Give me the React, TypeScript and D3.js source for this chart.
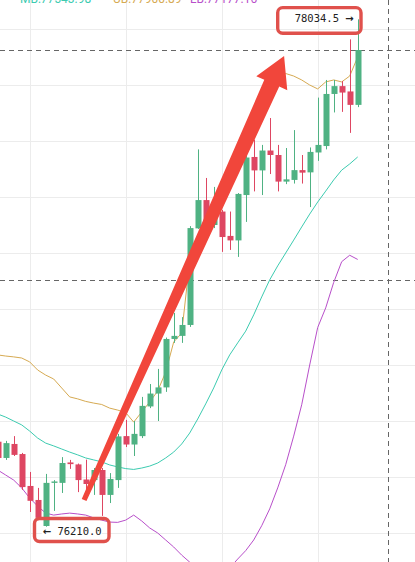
import React from 'react';
import * as d3 from 'd3';

const W = 415;
const H = 562;

// candle index -1..44
const candleIndex = d3.range(-1, 45);
const opens = [76526, 76468, 76518, 76482, 76368, 76318, 76225, 76379, 76379, 76452, 76445, 76391, 76389, 76425, 76336, 76389, 76546, 76516, 76546, 76652, 76698, 76720, 76893, 76904, 76943, 77288, 77389, 77300, 77348, 77261, 77245, 77407, 77543, 77495, 77566, 77550, 77455, 77461, 77496, 77488, 77559, 77582, 77768, 77796, 77777, 77729];
const highs = [76539, 76529, 76546, 76486, 76418, 76361, 76411, 76389, 76471, 76461, 76448, 76462, 76432, 76432, 76414, 76554, 76604, 76600, 76686, 76732, 76786, 76898, 76986, 76971, 77296, 77570, 77468, 77436, 77354, 77348, 77414, 77604, 77605, 77586, 77682, 77586, 77575, 77639, 77550, 77577, 77755, 77818, 77818, 77814, 77963, 78034.5];
const lows = [76454, 76461, 76475, 76354, 76275, 76246, 76210, 76279, 76343, 76429, 76346, 76346, 76336, 76261, 76307, 76361, 76507, 76475, 76539, 76646, 76600, 76704, 76879, 76879, 76936, 77286, 77289, 77289, 77204, 77211, 77186, 77311, 77420, 77407, 77482, 77420, 77446, 77448, 77448, 77364, 77529, 77570, 77702, 77704, 77629, 77721];
const closes = [76468, 76521, 76479, 76364, 76315, 76254, 76379, 76384, 76450, 76446, 76389, 76375, 76425, 76336, 76393, 76545, 76516, 76554, 76654, 76698, 76720, 76893, 76904, 76943, 77289, 77389, 77300, 77350, 77257, 77245, 77411, 77541, 77495, 77566, 77550, 77455, 77463, 77496, 77487, 77561, 77586, 77768, 77796, 77773, 77729, 77925];

const upperBand = [76836, 76832, 76829, 76825, 76811, 76782, 76764, 76750, 76718, 76686, 76679, 76670, 76664, 76659, 76646, 76639, 76630, 76596, 76632, 76668, 76707, 76775, 76882, 76914, 77171, 77236, 77296, 77361, 77425, 77489, 77554, 77614, 77679, 77743, 77789, 77825, 77841, 77832, 77818, 77800, 77786, 77811, 77818, 77811, 77832, 77900];
const middleBand = [76625, 76614, 76600, 76586, 76564, 76539, 76521, 76511, 76500, 76489, 76479, 76468, 76461, 76454, 76443, 76436, 76430, 76427, 76432, 76439, 76450, 76468, 76489, 76518, 76557, 76607, 76661, 76718, 76782, 76836, 76879, 76921, 76979, 77043, 77104, 77154, 77200, 77246, 77293, 77339, 77382, 77421, 77461, 77496, 77518, 77543];
const lowerBand = [76425, 76407, 76389, 76361, 76325, 76296, 76271, 76264, 76268, 76271, 76268, 76264, 76254, 76246, 76239, 76238, 76246, 76264, 76243, 76218, 76200, 76175, 76150, 76121, 76096, 76075, 76057, 76046, 76054, 76075, 76107, 76137, 76175, 76226, 76286, 76361, 76444, 76546, 76658, 76800, 76934, 77004, 77095, 77169, 77192, 77177];

const priceTicks = d3.range(76200, 78001, 200);
const timeGridIndex = [3, 15, 27, 39];
const lastPrice = 77925;
const crosshairPrice = 77104;
const crosshairIndex = 47.8;
const highLabel = '78034.5';
const lowLabel = '76210.0';
const highIndex = 44;
const lowIndex = 5;
const arrowFrom = { i: 9.8, p: 76318 };
const arrowTo = { i: 34.8, p: 77904 };
const legendTexts = ['MB:77543.98', 'UB:77900.89', 'LB:77177.16'];

const UP = '#4fb283';
const DOWN = '#de4662';
const C_UPPER = '#d6aa52';
const C_MID = '#3ccbb0';
const C_LOW = '#b84fca';

export default function App() {
  const x = d3.scaleLinear().domain([-1, 44]).range([-2.3, 357.7]);
  const y = d3.scaleLinear().domain([76200, 78000]).range([533, 29]);

  const bandLine = (vals: number[]) =>
    d3.line<number>().x((_, k) => x(candleIndex[k])).y((v) => y(v))(vals) || '';

  // arrow geometry
  const tx = x(arrowFrom.i), ty = y(arrowFrom.p);
  const hx = x(arrowTo.i), hy = y(arrowTo.p);
  const len = Math.hypot(hx - tx, hy - ty);
  const ux = (hx - tx) / len, uy = (hy - ty) / len;
  const nx = -uy, ny = ux;
  const headLen = 30, headHalf = 17, tailHalf = 2.6, baseHalf = 8.2;
  const bx = hx - ux * headLen, by = hy - uy * headLen;
  const arrowPts: [number, number][] = [
    [tx + nx * tailHalf, ty + ny * tailHalf],
    [bx + nx * baseHalf, by + ny * baseHalf],
    [bx + nx * headHalf, by + ny * headHalf],
    [hx, hy],
    [bx - nx * headHalf, by - ny * headHalf],
    [bx - nx * baseHalf, by - ny * baseHalf],
    [tx - nx * tailHalf, ty - ny * tailHalf],
  ];

  const hiX = x(highIndex), hiY = y(highs[highs.length - 1]);
  const loX = x(lowIndex), loY = y(lows[lowIndex + 1]);

  return (
    <svg width={W} height={H} style={{ position: 'absolute', left: 0, top: 0, background: '#fff' }}>
      <rect x={0} y={0} width={W} height={H} fill="#fff" />
      {priceTicks.map((p) => (
        <line key={'h' + p} x1={0} x2={W} y1={Math.round(y(p)) + 0.5} y2={Math.round(y(p)) + 0.5} stroke="#ececec" />
      ))}
      {timeGridIndex.map((i) => (
        <line key={'v' + i} y1={0} y2={H} x1={Math.round(x(i)) + 0.5} x2={Math.round(x(i)) + 0.5} stroke="#ececec" />
      ))}
      <line x1={0} x2={W} y1={Math.round(y(lastPrice)) + 0.5} y2={Math.round(y(lastPrice)) + 0.5} stroke="#666" strokeDasharray="5 4" />
      <line x1={0} x2={W} y1={Math.round(y(crosshairPrice)) + 0.5} y2={Math.round(y(crosshairPrice)) + 0.5} stroke="#666" strokeDasharray="5 4" />
      <line y1={0} y2={H} x1={Math.round(x(crosshairIndex)) + 0.5} x2={Math.round(x(crosshairIndex)) + 0.5} stroke="#666" strokeDasharray="5 4" />

      <path d={bandLine(upperBand)} fill="none" stroke={C_UPPER} strokeWidth={1} />
      <path d={bandLine(middleBand)} fill="none" stroke={C_MID} strokeWidth={1} />
      <path d={bandLine(lowerBand)} fill="none" stroke={C_LOW} strokeWidth={1} />

      {candleIndex.map((i, k) => {
        const o = opens[k], c = closes[k], h = highs[k], l = lows[k];
        const col = c >= o ? UP : DOWN;
        const cx = Math.round(x(i));
        const top = y(Math.max(o, c));
        const bot = y(Math.min(o, c));
        return (
          <g key={'c' + i}>
            <line x1={cx + 0.5} x2={cx + 0.5} y1={y(h)} y2={y(l)} stroke={col} strokeWidth={1} />
            <rect x={cx - 2.5} y={top} width={6} height={Math.max(1.2, bot - top)} fill={col} />
          </g>
        );
      })}

      <polygon points={arrowPts.map((p) => p.join(',')).join(' ')} fill="#f1463b" />

      <rect x={hiX - 80} y={hiY - 11.7} width={83.3} height={25.6} rx={5} fill="none" stroke="#e0514c" strokeWidth={3.4} />
      <text x={hiX - 4} y={hiY + 2.6} textAnchor="end" fontFamily="DejaVu Sans Mono" fontSize={10.5} fill="#222">
        <tspan>{highLabel + ' '}</tspan>
        <tspan fontFamily="DejaVu Sans" fontWeight="bold" fontSize={10}>→</tspan>
      </text>

      <rect x={loX - 4} y={loY - 3.5} width={60} height={11} fill="#fff" />
      <rect x={loX - 11.2} y={loY - 11.7} width={74.5} height={23} rx={5} fill="none" stroke="#e0514c" strokeWidth={3.4} />
      <text x={loX - 3} y={loY + 4.8} fontFamily="DejaVu Sans Mono" fontSize={10.5} fill="#222">
        <tspan fontFamily="DejaVu Sans" fontWeight="bold" fontSize={10}>←</tspan>
        <tspan>{' ' + lowLabel}</tspan>
      </text>

      <text x={20} y={2.5} fontFamily="Roboto, sans-serif" fontSize={12} fill={C_MID}>{legendTexts[0]}</text>
      <text x={113} y={2.5} fontFamily="Roboto, sans-serif" fontSize={12} fill={C_UPPER}>{legendTexts[1]}</text>
      <text x={190} y={2.5} fontFamily="Roboto, sans-serif" fontSize={12} fill={C_LOW}>{legendTexts[2]}</text>
    </svg>
  );
}
